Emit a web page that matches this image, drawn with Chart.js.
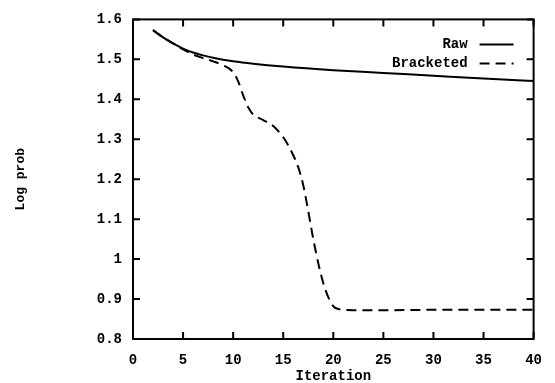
<!DOCTYPE html>
<html>
<head>
<meta charset="utf-8">
<script src="https://cdn.jsdelivr.net/npm/chart.js@4/dist/chart.umd.min.js"></script>
<style>
  html, body { margin: 0; padding: 0; background: #fff; }
  #wrap { width: 555px; height: 383px; }
</style>
</head>
<body>
<div id="wrap"><canvas id="chart"></canvas></div>
<script>
// data
const rawIter = [2, 3, 4, 5, 6, 7, 8, 9, 10, 12, 15, 20, 25, 30, 35, 40];
const rawLogProb = [1.573, 1.555, 1.54, 1.527, 1.517, 1.51, 1.504, 1.499, 1.495, 1.489, 1.482, 1.473, 1.466, 1.459, 1.452, 1.446];

const brIter = [2, 3, 4, 5, 6, 7, 8, 9, 10, 10.5, 11, 11.5, 12, 13, 14, 15, 15.5, 16, 16.5, 17, 17.5, 18, 18.5, 19, 19.5, 20, 20.5, 21, 22, 25, 30, 35, 40];
const brLogProb = [1.573, 1.555, 1.54, 1.525, 1.512, 1.503, 1.495, 1.485, 1.468, 1.445, 1.41, 1.38, 1.362, 1.348, 1.333, 1.305, 1.285, 1.26, 1.23, 1.185, 1.12, 1.05, 0.99, 0.94, 0.905, 0.882, 0.875, 0.873, 0.872, 0.872, 0.873, 0.873, 0.873];

const seriesNames = ['Raw', 'Bracketed'];
const xRange = [0, 40];
const yRange = [0.8, 1.6];

const FONT = "'Liberation Mono', 'DejaVu Sans Mono', monospace";

function pairs(xs, ys) {
    return xs.map((x, i) => ({x: x, y: ys[i]}));
}

// box, inward ticks on all four sides, legend inside top right
const framePlugin = {
    id: 'frame',
    afterDraw(chart) {
        const ctx = chart.ctx;
        const a = chart.chartArea;
        const xs = chart.scales.x;
        const ys = chart.scales.y;
        const tl = 7;
        ctx.save();
        ctx.strokeStyle = '#000';
        ctx.lineWidth = 2;
        ctx.strokeRect(a.left, a.top, a.right - a.left, a.bottom - a.top);
        ctx.beginPath();
        xs.ticks.forEach(t => {
            const px = xs.getPixelForValue(t.value);
            ctx.moveTo(px, a.bottom); ctx.lineTo(px, a.bottom - tl);
            ctx.moveTo(px, a.top); ctx.lineTo(px, a.top + tl);
        });
        ys.ticks.forEach(t => {
            const py = ys.getPixelForValue(t.value);
            ctx.moveTo(a.left, py); ctx.lineTo(a.left + tl, py);
            ctx.moveTo(a.right, py); ctx.lineTo(a.right - tl, py);
        });
        ctx.stroke();

        // legend
        ctx.font = 'bold 14px ' + FONT;
        ctx.textAlign = 'right';
        ctx.textBaseline = 'middle';
        ctx.fillStyle = '#000';
        chart.data.datasets.forEach((ds, i) => {
            const y = a.top + 25 + i * 19;
            ctx.fillText(ds.label, a.right - 66, y);
            ctx.setLineDash(ds.borderDash || []);
            ctx.lineWidth = 2;
            ctx.beginPath();
            ctx.moveTo(a.right - 54, y);
            ctx.lineTo(a.right - 20, y);
            ctx.stroke();
        });
        ctx.restore();
    }
};

const ctx = document.getElementById('chart').getContext('2d');
new Chart(ctx, {
    type: 'line',
    data: {
        datasets: [{
            label: seriesNames[0],
            data: pairs(rawIter, rawLogProb),
            borderColor: '#000',
            borderWidth: 2,
            pointRadius: 0,
            cubicInterpolationMode: 'monotone',
            fill: false
        }, {
            label: seriesNames[1],
            data: pairs(brIter, brLogProb),
            borderColor: '#000',
            borderWidth: 2,
            borderDash: [10, 6],
            pointRadius: 0,
            cubicInterpolationMode: 'monotone',
            fill: false
        }]
    },
    options: {
        responsive: true,
        maintainAspectRatio: false,
        animation: false,
        layout: { padding: { top: 18, right: 11, left: 0, bottom: 0 } },
        plugins: {
            legend: { display: false },
            tooltip: { enabled: false }
        },
        scales: {
            x: {
                type: 'linear',
                min: xRange[0],
                max: xRange[1],
                grid: { display: false, drawTicks: false },
                border: { display: false },
                ticks: {
                    stepSize: 5,
                    padding: 13,
                    color: '#000',
                    maxRotation: 0,
                    font: { family: FONT, size: 14, weight: 'bold' }
                },
                title: {
                    display: true,
                    text: 'Iteration',
                    color: '#000',
                    padding: { top: 0, bottom: -2 },
                    font: { family: FONT, size: 14, weight: 'bold' }
                },
                afterFit: s => { s.height = 44; }
            },
            y: {
                min: yRange[0],
                max: yRange[1],
                grid: { display: false, drawTicks: false },
                border: { display: false },
                ticks: {
                    stepSize: 0.1,
                    padding: 11,
                    color: '#000',
                    font: { family: FONT, size: 14, weight: 'bold' },
                    callback: v => String(parseFloat(v.toFixed(2)))
                },
                title: {
                    display: true,
                    text: 'Log prob',
                    color: '#000',
                    padding: { top: 13, bottom: 0 },
                    font: { family: FONT, size: 13, weight: 'bold' }
                },
                afterFit: s => { s.width = 133; }
            }
        }
    },
    plugins: [framePlugin]
});
</script>
</body>
</html>
